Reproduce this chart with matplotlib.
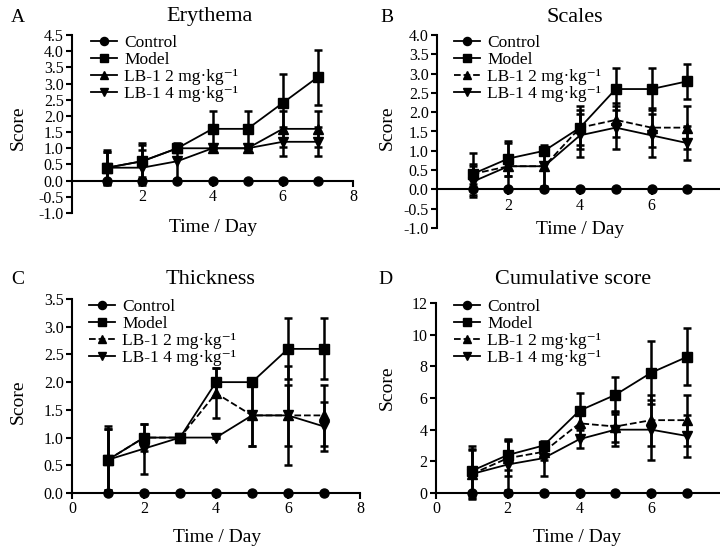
import matplotlib
matplotlib.use("Agg")
import matplotlib.pyplot as plt
import numpy as np
from matplotlib.ticker import FormatStrFormatter

plt.rcParams['font.family'] = ['Liberation Serif', 'DejaVu Serif']
plt.rcParams['axes.unicode_minus'] = False

days = [1, 2, 3, 4, 5, 6, 7]
labels = ['Control', 'Model', 'LB-1 2 mg·kg⁻¹', 'LB-1 4 mg·kg⁻¹']

# A: Erythema
ery_control = [0, 0, 0, 0, 0, 0, 0]
ery_model = [0.4, 0.6, 1.0, 1.6, 1.6, 2.4, 3.2]
ery_model_err = [0.55, 0.55, 0.05, 0.55, 0.55, 0.9, 0.85]
ery_lb2 = [0.4, 0.6, 1.0, 1.0, 1.0, 1.6, 1.6]
ery_lb2_err = [0.5, 0.5, 0.0, 0.0, 0.0, 0.55, 0.55]
ery_lb4 = [0.4, 0.4, 0.6, 1.0, 1.0, 1.2, 1.2]
ery_lb4_err = [0.5, 0.55, 0.55, 0.0, 0.0, 0.45, 0.45]

# B: Scales
sc_control = [0, 0, 0, 0, 0, 0, 0]
sc_model = [0.4, 0.8, 1.0, 1.6, 2.6, 2.6, 2.8]
sc_model_err = [0.55, 0.45, 0.1, 0.55, 0.55, 0.55, 0.45]
sc_lb2 = [0.4, 0.6, 0.6, 1.6, 1.8, 1.6, 1.6]
sc_lb2_err = [0.25, 0.6, 0.5, 0.45, 0.45, 0.5, 0.55]
sc_lb4 = [0.2, 0.6, 0.6, 1.4, 1.6, 1.4, 1.2]
sc_lb4_err = [0.4, 0.25, 0.55, 0.55, 0.55, 0.55, 0.45]

# C: Thickness
th_control = [0, 0, 0, 0, 0, 0, 0]
th_model = [0.6, 1.0, 1.0, 2.0, 2.0, 2.6, 2.6]
th_model_err = [0.55, 0.25, 0.0, 0.25, 0.0, 0.55, 0.55]
th_lb2 = [0.6, 1.0, 1.0, 1.8, 1.4, 1.4, 1.4]
th_lb2_err = [0.6, 0.0, 0.0, 0.45, 0.55, 0.9, 0.55]
th_lb4 = [0.6, 0.8, 1.0, 1.0, 1.4, 1.4, 1.2]
th_lb4_err = [0.55, 0.45, 0.0, 0.0, 0.55, 0.55, 0.45]

# D: Cumulative score
cu_control = [0, 0, 0, 0, 0, 0, 0]
cu_model = [1.4, 2.4, 3.0, 5.2, 6.2, 7.6, 8.6]
cu_model_err = [1.6, 0.95, 0.2, 1.1, 1.1, 2.0, 1.8]
cu_lb2 = [1.2, 2.2, 2.6, 4.4, 4.2, 4.6, 4.6]
cu_lb2_err = [1.6, 1.1, 0.5, 0.9, 1.0, 1.6, 1.6]
cu_lb4 = [1.2, 1.8, 2.2, 3.4, 4.0, 4.0, 3.6]
cu_lb4_err = [1.5, 1.6, 1.1, 0.55, 1.0, 1.9, 1.35]

fig = plt.figure(figsize=(7.2, 5.48), dpi=100)
W, H = 720.0, 548.0


def make_ax(left, right, top, bottom):
    return fig.add_axes([left / W, 1 - bottom / H, (right - left) / W, (bottom - top) / H])


panels = [
    dict(rect=(72, 353, 35, 213), title='Erythema', title_x=210, letter='A', letter_xy=(18, 17),
         data=(ery_control, ery_model, ery_model_err, ery_lb2, ery_lb2_err, ery_lb4, ery_lb4_err),
         ylim=(-1.0, 4.5), yticks=np.arange(-1.0, 4.51, 0.5), yfmt='%.1f', zero_axis=True,
         dashed=False, xticks=[2, 4, 6, 8], ylabel_xy=(18, 128), xlabel_xy=(213, 228),
         leg_xy=(91, 35)),
    dict(rect=(437, 723, 35, 228), title='Scales', title_x=575, letter='B', letter_xy=(387, 17),
         data=(sc_control, sc_model, sc_model_err, sc_lb2, sc_lb2_err, sc_lb4, sc_lb4_err),
         ylim=(-1.0, 4.0), yticks=np.arange(-1.0, 4.01, 0.5), yfmt='%.1f', zero_axis=True,
         dashed=True, xticks=[2, 4, 6, 8], ylabel_xy=(387, 128), xlabel_xy=(580, 230),
         leg_xy=(454, 35)),
    dict(rect=(72, 360, 299, 493), title='Thickness', title_x=210, letter='C', letter_xy=(18, 280),
         data=(th_control, th_model, th_model_err, th_lb2, th_lb2_err, th_lb4, th_lb4_err),
         ylim=(0, 3.5), yticks=np.arange(0, 3.51, 0.5), yfmt='%.1f', zero_axis=False,
         dashed=True, xticks=[0, 2, 4, 6, 8], ylabel_xy=(18, 402), xlabel_xy=(217, 537),
         leg_xy=(89, 299)),
    dict(rect=(436, 723, 303, 493), title='Cumulative score', title_x=573, letter='D', letter_xy=(385, 280),
         data=(cu_control, cu_model, cu_model_err, cu_lb2, cu_lb2_err, cu_lb4, cu_lb4_err),
         ylim=(0, 12), yticks=np.arange(0, 12.1, 2), yfmt='%d', zero_axis=False,
         dashed=True, xticks=[0, 2, 4, 6, 8], ylabel_xy=(387, 388), xlabel_xy=(577, 537),
         leg_xy=(454, 299)),
]

for p in panels:
    ax = make_ax(*p['rect'])
    ctrl, mod, mod_e, lb2, lb2_e, lb4, lb4_e = p['data']
    ax.set_xlim(0, 8)
    ax.set_ylim(*p['ylim'])
    ekw = dict(fmt='none', ecolor='black', elinewidth=1.8, capsize=3, capthick=1.8, clip_on=False)
    ax.errorbar(days, mod, yerr=mod_e, **ekw)
    ax.errorbar(days, lb2, yerr=lb2_e, **ekw)
    ax.errorbar(days, lb4, yerr=lb4_e, **ekw)
    lw = 1.3
    ms = 6.5
    ax.plot(days, ctrl, '-', marker='o', color='black', lw=lw, ms=ms, label=labels[0], clip_on=False, zorder=4)
    ax.plot(days, mod, '-', marker='s', color='black', lw=lw, ms=ms, label=labels[1], clip_on=False, zorder=4)
    ax.plot(days, lb2, '--' if p['dashed'] else '-', marker='^', color='black', lw=lw, ms=ms,
            label=labels[2], clip_on=False, zorder=4)
    ax.plot(days, lb4, '-', marker='v', color='black', lw=lw, ms=ms, label=labels[3], clip_on=False, zorder=4)

    for s in ['top', 'right']:
        ax.spines[s].set_visible(False)
    for s in ['left', 'bottom']:
        ax.spines[s].set_linewidth(1.5)
    if p['zero_axis']:
        ax.spines['bottom'].set_position(('data', 0))
    ax.set_xticks(p['xticks'])
    ax.set_yticks(p['yticks'])
    ax.yaxis.set_major_formatter(FormatStrFormatter(p['yfmt']))
    ax.tick_params(axis='both', direction='out', width=1.5, length=4, labelsize=11.5, pad=2)

    fig.text(p['title_x'] / W, 1 - p['letter_xy'][1] / H, p['title'], ha='center', va='center', fontsize=16)
    fig.text(p['letter_xy'][0] / W, 1 - p['letter_xy'][1] / H, p['letter'], ha='center', va='center', fontsize=14)
    fig.text(p['ylabel_xy'][0] / W, 1 - p['ylabel_xy'][1] / H, 'Score', rotation=90,
             ha='center', va='center', fontsize=14)
    fig.text(p['xlabel_xy'][0] / W, 1 - p['xlabel_xy'][1] / H, 'Time / Day', ha='center', va='center', fontsize=14)

    ax.legend(loc='upper left', bbox_to_anchor=(p['leg_xy'][0] / W, 1 - p['leg_xy'][1] / H),
              bbox_transform=fig.transFigure, frameon=False, borderpad=0, borderaxespad=0,
              handlelength=1.5, handletextpad=0.4, labelspacing=0.05, fontsize=12.5,
              markerscale=0.9)

fig.savefig('out.png', dpi=100)
